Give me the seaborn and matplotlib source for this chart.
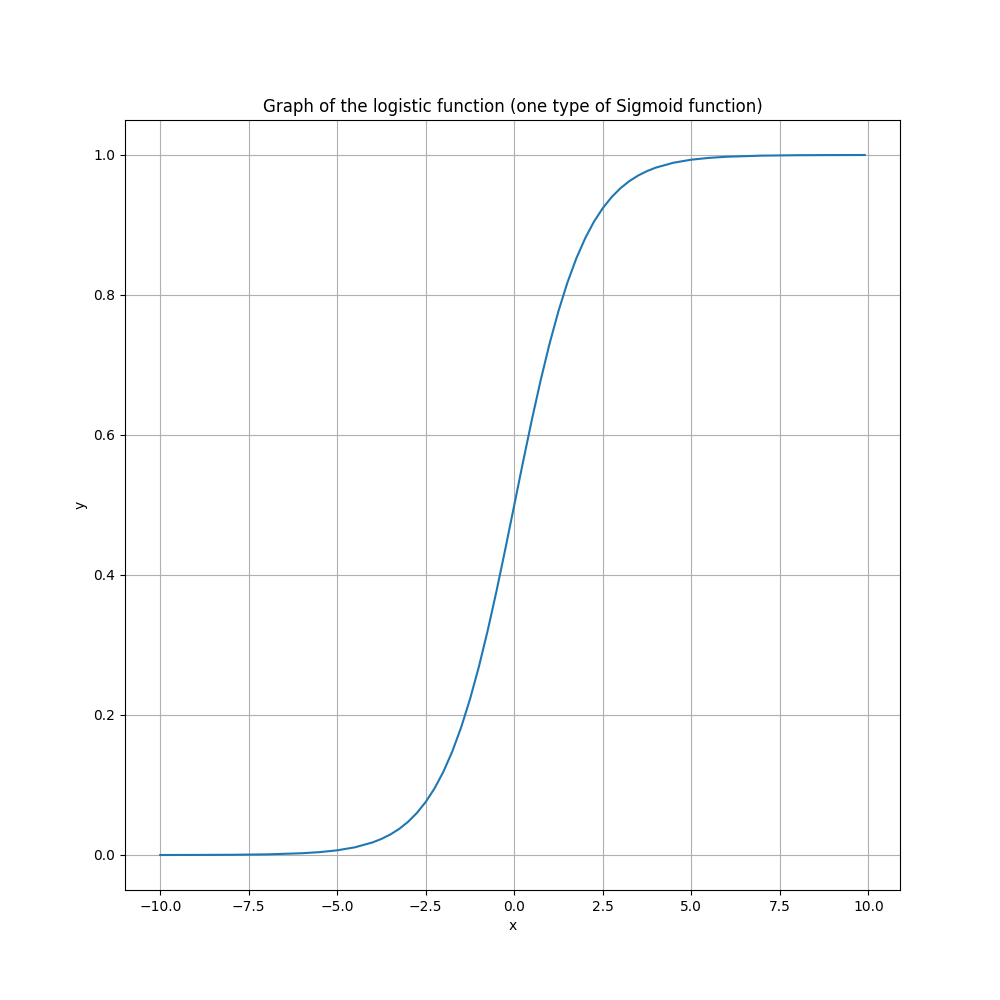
import seaborn as sns
import matplotlib.pyplot as plt

# points
x_vals = [-10.0, -9.0, -8.0, -7.0, -6.0, -5.5, -5.0, -4.5, -4.0, -3.75, -3.5, -3.25,
          -3.0, -2.75, -2.5, -2.25, -2.0, -1.75, -1.5, -1.25, -1.0, -0.75, -0.5, -0.25,
          0.0, 0.25, 0.5, 0.75, 1.0, 1.25, 1.5, 1.75, 2.0, 2.25, 2.5, 2.75,
          3.0, 3.25, 3.5, 3.75, 4.0, 4.5, 5.0, 5.5, 6.0, 7.0, 8.0, 9.0, 9.9]
y_vals = [0.0000, 0.0001, 0.0003, 0.0009, 0.0025, 0.0041, 0.0067, 0.0110, 0.0180, 0.0230, 0.0293, 0.0373,
          0.0474, 0.0601, 0.0759, 0.0953, 0.1192, 0.1480, 0.1824, 0.2227, 0.2689, 0.3208, 0.3775, 0.4378,
          0.5000, 0.5622, 0.6225, 0.6792, 0.7311, 0.7773, 0.8176, 0.8520, 0.8808, 0.9047, 0.9241, 0.9399,
          0.9526, 0.9627, 0.9707, 0.9770, 0.9820, 0.9890, 0.9933, 0.9959, 0.9975, 0.9991, 0.9997, 0.9999, 1.0000]

plt.figure(figsize = (10, 10))
ax = sns.lineplot(x = x_vals, y = y_vals, color = "#1f77b4")
plt.grid(True)
plt.title("Graph of the logistic function (one type of Sigmoid function)")
plt.xlabel("x")
plt.ylabel("y")
plt.savefig("out.png", dpi = 100)
plt.close()
